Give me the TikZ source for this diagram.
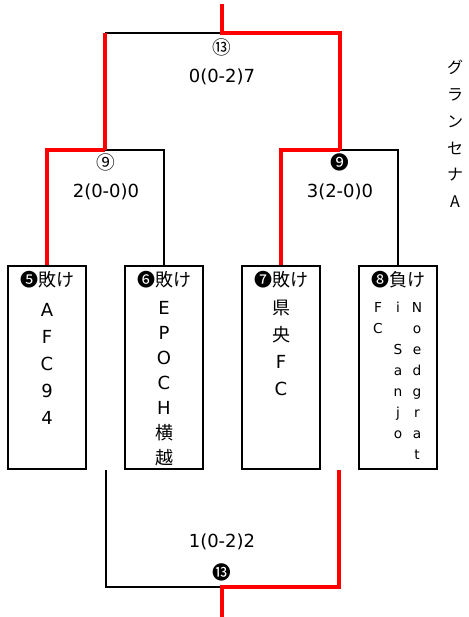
\documentclass[tikz,border=0pt]{standalone}
\usepackage{fontspec}
\setmainfont{DejaVu Sans}
\newfontfamily\jp{Noto Sans CJK JP}
\tikzset{
  win/.style={draw=red, line width=3pt},
  lose/.style={draw=black, line width=1.2pt},
  team/.style={draw, line width=1.3pt, minimum width=58.5pt, minimum height=152pt, inner sep=0},
  score/.style={font=\fontsize{13.5}{16}\selectfont},
  mno/.style={font=\jp\fontsize{14}{16}\selectfont},
  res/.style={anchor=base, inner sep=0, font=\jp\fontsize{13.5}{16}\selectfont},
  tname/.style={align=center, anchor=north, inner sep=0, font=\fontsize{13.5}{20.25}\selectfont},
}
\begin{document}
\begin{tikzpicture}[x=0.75pt, y=-0.75pt]
\useasboundingbox (0,0) rectangle (468,617);
% team boxes
\node (b1) at (47,367.5) [team] {};
\node (b2) at (164,367.5) [team] {};
\node (b3) at (281,367.5) [team] {};
\node (b4) at (398,367.5) [team] {};
\node (h1) at (47,286.5) [res] {❺敗け};
\node (h2) at (164,286.5) [res] {❻敗け};
\node (h3) at (281,286.5) [res] {❼敗け};
\node (h4) at (398,286.5) [res] {❽負け};
\node (t1) at (47,303.5) [tname] {A\\F\\C\\9\\4};
\node (t2) at (164,301.5) [tname, font=\fontsize{13.5}{18.75}\selectfont] {E\\P\\O\\C\\H\\{\jp 横}\\{\jp 越}};
\node (t3) at (281,300) [tname] {{\jp 県}\\{\jp 央}\\F\\C};
\node (t4a) at (378,302) [tname, font=\fontsize{10.3}{15.75}\selectfont] {F\\C};
\node (t4b) at (398,301.5) [tname, font=\fontsize{10.3}{15.75}\selectfont] {i\\\mbox{}\\S\\a\\n\\j\\o};
\node (t4c) at (417,302) [tname, font=\fontsize{10.3}{15.75}\selectfont] {N\\o\\e\\d\\g\\r\\a\\t};
% side team
\node (gs) at (455,60) [tname, font=\jp\fontsize{12}{20.1}\selectfont] {グ\\ラ\\ン\\セ\\ナ\\A};
% match labels
\node (m13) at (222,47) [mno] {⑬};
\node (r13) at (222,77) [score] {0(0-2)7};
\node (m9a) at (106,162) [mno] {⑨};
\node (r9a) at (106,192) [score] {2(0-0)0};
\node (m9b) at (340,162) [mno] {❾};
\node (r9b) at (340,192) [score] {3(2-0)0};
\node (r13b) at (222,542) [score] {1(0-2)2};
\node (m13b) at (222,572) [mno] {⓭};
% bracket points
\coordinate (top) at (222,4);
\coordinate (f) at (222,33);
\coordinate (s1) at (105,150);
\coordinate (s2) at (340,150);
\coordinate (tp) at (222,587);
\coordinate (l3) at (106,470);
\coordinate (r3) at (339,470);
\coordinate (bot) at (222,617);
% losing lines
\draw [lose] (s1 |- f) -- (f);
\draw [lose] (s1) -| (b2.north);
\draw [lose] (s2) -| (b4.north);
\draw [lose] (l3) |- (tp);
% winning lines
\draw [win] (top) -- (f) -| (s2);
\draw [win] (s1 |- f) -- (s1);
\draw [win] (b1.north) |- (s1);
\draw [win] (s2) -| (b3.north);
\draw [win] (r3) |- (tp) -- (bot);
\end{tikzpicture}
\end{document}
